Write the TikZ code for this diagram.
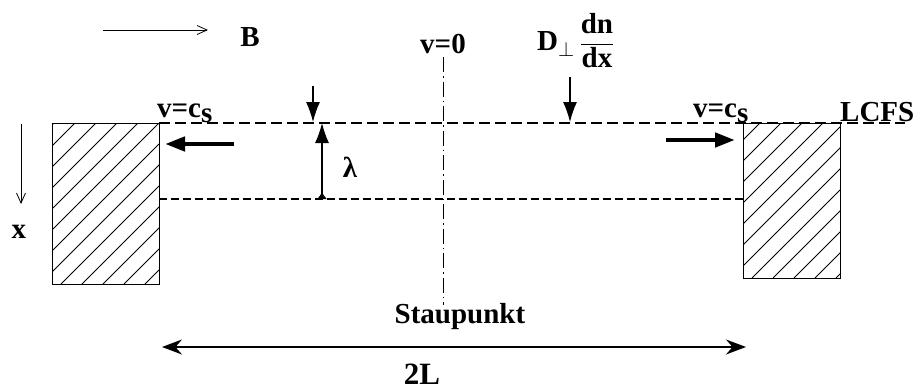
\documentclass[tikz,border=0pt]{standalone}
\usepackage{fontspec}
\setmainfont{Liberation Serif}
\usetikzlibrary{arrows.meta}
\begin{document}
\begin{tikzpicture}[x=1pt,y=-1pt,
  lbl/.style={font=\fontsize{29}{32}\selectfont\bfseries, inner sep=0pt},
  thinarrow/.style={line width=0.8pt, -{Straight Barb[length=10pt,width=9pt]}},
  fatarrow/.style={line width=4.5pt, -{Triangle[length=20pt,width=14pt]}},
  midarrow/.style={line width=1.2pt, -{Latex[length=20pt,width=14pt]}},
  lcfsline/.style={line width=1.3pt, dash pattern=on 11pt off 5pt},
  lamline/.style={line width=1.3pt, dash pattern=on 8pt off 4pt},
  axisline/.style={line width=1pt, dash pattern=on 15pt off 4pt on 1.5pt off 4pt},
  blockline/.style={line width=1pt},
  hatchline/.style={line width=0.9pt}]
\useasboundingbox (0,0) rectangle (924,391);

% named points
\coordinate (Bs) at (103,30);  \coordinate (Be) at (208,30);
\coordinate (xs) at (21,124);  \coordinate (xe) at (21,204);
\coordinate (lcfsL) at (159,123); \coordinate (lcfsR) at (905,123);
\coordinate (lamL) at (159,199); \coordinate (lamR) at (743,199);
\coordinate (axT) at (443,57); \coordinate (axB) at (443,305);
\coordinate (fLs) at (234,144); \coordinate (fLe) at (165,144);
\coordinate (fRs) at (666,140); \coordinate (fRe) at (735,140);
\coordinate (dAs) at (313,86); \coordinate (dAe) at (313,122);
\coordinate (uAs) at (322,199); \coordinate (uAe) at (322,123);
\coordinate (DAs) at (570,77); \coordinate (DAe) at (570,122);
\coordinate (Ls) at (162,347); \coordinate (Le) at (746,347);

% blocks (hatched)
\begin{scope}
  \clip (52,123) rectangle (159,284);
  \foreach \i in {-180,-159,...,140} {
    \draw[hatchline] (52+\i,284) -- ++(250,-250);
  }
\end{scope}
\draw[blockline] (52,123) rectangle (159,284);
\begin{scope}
  \clip (743,123) rectangle (840,278);
  \foreach \i in {-180,-159,...,120} {
    \draw[hatchline] (743+\i,278) -- ++(250,-250);
  }
\end{scope}
\draw[blockline] (743,123) rectangle (840,278);

% lines
\draw[lcfsline] (lcfsL) -- (lcfsR);
\draw[lamline] (lamL) -- (lamR);
\draw[axisline] (axT) -- (axB);

% arrows
\draw[thinarrow] (Bs) -- (Be);
\draw[thinarrow] (xs) -- (xe);
\draw[fatarrow] (fLs) -- (fLe);
\draw[fatarrow] (fRs) -- (fRe);
\draw[midarrow] (dAs) -- (dAe);
\draw[line width=1.2pt, {Latex[reversed,length=7pt,width=10pt]}-{Latex[length=20pt,width=14pt]}] (uAs) -- (uAe);
\draw[midarrow] (DAs) -- (DAe);
\draw[line width=1.5pt, {Stealth[length=20pt,width=15pt]}-{Stealth[length=20pt,width=15pt]}] (Ls) -- (Le);

% labels
\node[lbl] (B) at (250,37) {B};
\node[lbl] (v0) at (443,44) {v=0};
\node[lbl, anchor=west] (D) at (537,41) {D$_{\perp}$\,$\displaystyle\frac{\textbf{dn}}{\textbf{dx}}$};
\node[lbl, anchor=base west] (vcL) at (157,117) {v=c$_{\textbf{s}}$};
\node[lbl, anchor=base west] (vcR) at (693,117) {v=c$_{\textbf{s}}$};
\node[lbl, anchor=base west] (lcfs) at (840,121) {LCFS};
\node[lbl] (lam) at (350,167) {λ};
\node[lbl] (xl) at (19,232) {x};
\node[lbl, anchor=base] (stau) at (460,323) {Staupunkt};
\node[lbl, anchor=base, font=\fontsize{31}{33}\selectfont\bfseries] (L2) at (422,384) {2L};
\end{tikzpicture}
\end{document}
